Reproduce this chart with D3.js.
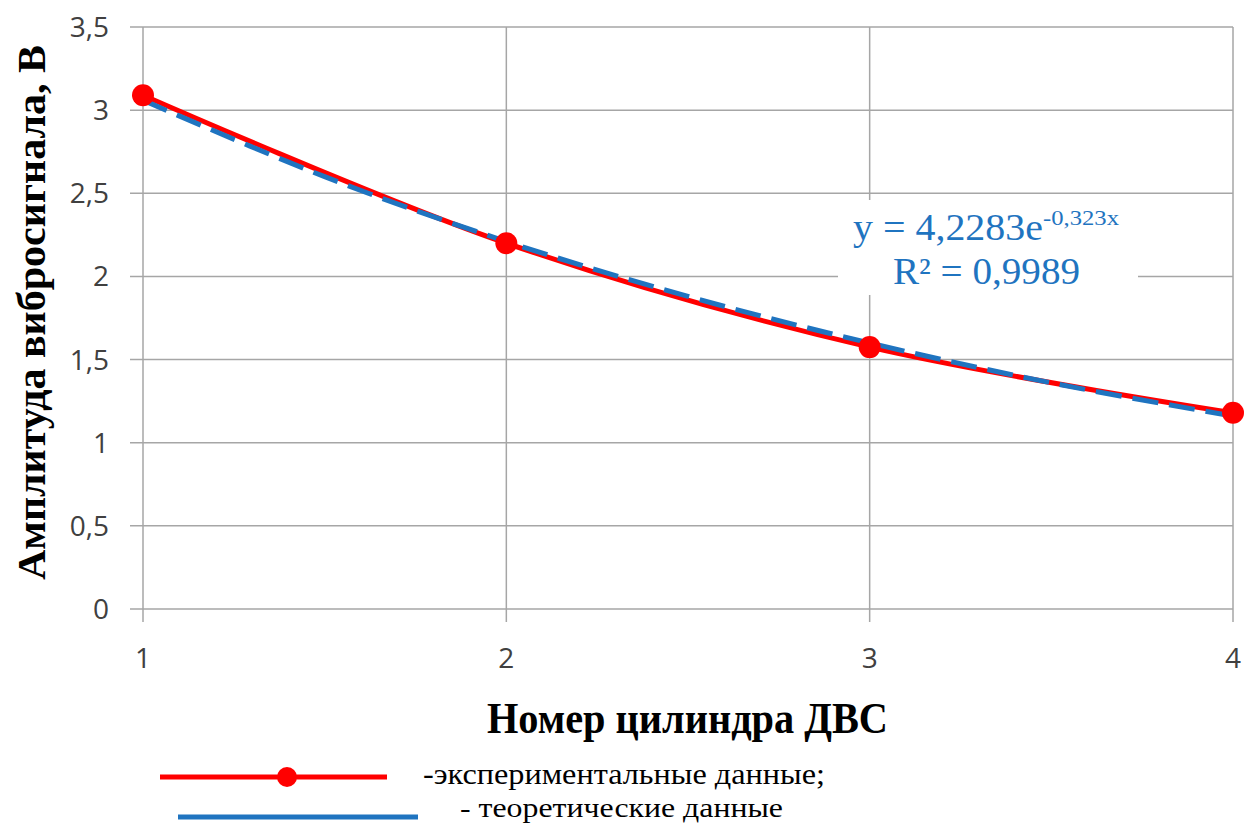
<!DOCTYPE html>
<html>
<head>
<meta charset="utf-8">
<script src="https://cdn.jsdelivr.net/npm/d3@7"></script>
<style>
  body { margin: 0; background: #fff; }
  svg { display: block; }
</style>
</head>
<body>
<div id="chart"></div>
<script>
// cylinder numbers
var cylinders = [1, 2, 3, 4];
// experimental amplitude, V
var experimental = [3.09, 2.2, 1.575, 1.18];
// theoretical curve
var theoryX = [1, 1.5, 2, 2.5, 3, 3.5, 4];
var theoryY = [3.06, 2.6, 2.21, 1.88, 1.60, 1.36, 1.16];
var yTicks = [0, 0.5, 1, 1.5, 2, 2.5, 3, 3.5];
var xTicks = [1, 2, 3, 4];

var width = 1244, height = 825;
var serif = '"Liberation Serif", "Times New Roman", serif';
var sans = '"Open Sans", Lato, sans-serif';
var svg = d3.select('#chart').append('svg')
    .attr('width', width).attr('height', height);

var x = d3.scaleLinear().domain([1, 4]).range([143, 1233]);
var y = d3.scaleLinear().domain([0, 3.5]).range([609, 27]);
var fmt = function(d) { return String(d).replace('.', ','); };

// grid
svg.append('g').selectAll('line.h').data(yTicks).enter().append('line')
    .attr('x1', 130).attr('x2', x(4))
    .attr('y1', function(d) { return y(d); }).attr('y2', function(d) { return y(d); })
    .attr('stroke', '#a6a6a6').attr('stroke-width', 1.5);
svg.append('g').selectAll('line.v').data(xTicks).enter().append('line')
    .attr('x1', function(d) { return x(d); }).attr('x2', function(d) { return x(d); })
    .attr('y1', y(3.5)).attr('y2', 622)
    .attr('stroke', '#a6a6a6').attr('stroke-width', 1.5);

// tick labels
svg.append('g').selectAll('text').data(yTicks).enter().append('text')
    .attr('x', 109).attr('y', function(d) { return y(d) + 10; })
    .attr('text-anchor', 'end')
    .style('font-family', sans).style('font-size', '28px')
    .attr('fill', '#404040')
    .text(fmt);
svg.append('g').selectAll('text').data(xTicks).enter().append('text')
    .attr('x', function(d) { return x(d); }).attr('y', 668)
    .attr('text-anchor', 'middle')
    .style('font-family', sans).style('font-size', '28px')
    .attr('fill', '#404040')
    .text(fmt);

// trend label background
svg.append('rect').attr('x', 838).attr('y', 200).attr('width', 300).attr('height', 95)
    .attr('fill', '#fff');

// lines
var line = d3.line().x(function(d) { return x(d[0]); }).y(function(d) { return y(d[1]); })
    .curve(d3.curveCatmullRom);
svg.append('path')
    .datum(cylinders.map(function(c, i) { return [c, experimental[i]]; }))
    .attr('d', line).attr('fill', 'none').attr('stroke', '#ff0000').attr('stroke-width', 5);
svg.append('path')
    .datum(theoryX.map(function(c, i) { return [c, theoryY[i]]; }))
    .attr('d', line).attr('fill', 'none').attr('stroke', '#1f74c0').attr('stroke-width', 5)
    .attr('stroke-dasharray', '26,11');
svg.append('g').selectAll('circle').data(cylinders).enter().append('circle')
    .attr('cx', function(d) { return x(d); })
    .attr('cy', function(d, i) { return y(experimental[i]); })
    .attr('r', 11).attr('fill', '#ff0000');

// equation
svg.append('text').attr('x', 853).attr('y', 240)
    .attr('textLength', 190).attr('lengthAdjust', 'spacingAndGlyphs')
    .style('font-family', serif).style('font-size', '37px')
    .attr('fill', '#1f74c0').text('y = 4,2283e');
svg.append('text').attr('x', 1043).attr('y', 225)
    .attr('textLength', 76).attr('lengthAdjust', 'spacingAndGlyphs')
    .style('font-family', serif).style('font-size', '21px')
    .attr('fill', '#1f74c0').text('-0,323x');
svg.append('text').attr('x', 893).attr('y', 284)
    .attr('textLength', 187).attr('lengthAdjust', 'spacingAndGlyphs')
    .style('font-family', serif).style('font-size', '37px')
    .attr('fill', '#1f74c0').text('R² = 0,9989');

// axis titles
svg.append('text').attr('x', 487).attr('y', 733)
    .attr('textLength', 401).attr('lengthAdjust', 'spacingAndGlyphs')
    .style('font-family', serif).style('font-size', '45px')
    .style('font-weight', 'bold').text('Номер цилиндра ДВС');
svg.append('text').attr('transform', 'translate(45,580) rotate(-90)')
    .attr('textLength', 535).attr('lengthAdjust', 'spacingAndGlyphs')
    .style('font-family', serif).style('font-size', '41px')
    .style('font-weight', 'bold').text('Амплитуда вибросигнала, В');

// legend
svg.append('line').attr('x1', 160).attr('x2', 387).attr('y1', 777).attr('y2', 777)
    .attr('stroke', '#ff0000').attr('stroke-width', 5);
svg.append('circle').attr('cx', 287).attr('cy', 777).attr('r', 10).attr('fill', '#ff0000');
svg.append('text').attr('x', 423).attr('y', 784)
    .attr('textLength', 402).attr('lengthAdjust', 'spacingAndGlyphs')
    .style('font-family', serif).style('font-size', '29px')
    .text('-экспериментальные данные;');
svg.append('line').attr('x1', 178).attr('x2', 418).attr('y1', 817).attr('y2', 817)
    .attr('stroke', '#1f74c0').attr('stroke-width', 5);
svg.append('text').attr('x', 460).attr('y', 817)
    .attr('textLength', 323).attr('lengthAdjust', 'spacingAndGlyphs')
    .style('font-family', serif).style('font-size', '28px')
    .text('- теоретические данные');
</script>
</body>
</html>
